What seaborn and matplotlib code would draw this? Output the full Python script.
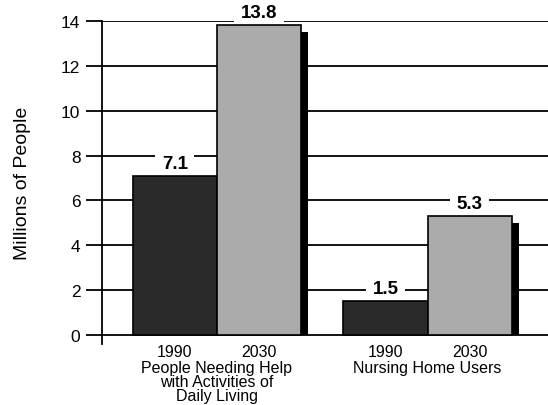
import matplotlib
matplotlib.use("Agg")
import matplotlib.pyplot as plt
from matplotlib.patches import Rectangle
import seaborn as sns
import pandas as pd

# Data: millions of people, 1990 vs. projected 2030
categories = ["People Needing Help\nwith Activities of\nDaily Living", "Nursing Home Users"]
years = ["1990", "2030"]
values_1990 = [7.1, 1.5]
values_2030 = [13.8, 5.3]
y_ticks = [0, 2, 4, 6, 8, 10, 12, 14]

df = pd.DataFrame({
    "category": categories * 2,
    "year": [years[0]] * 2 + [years[1]] * 2,
    "millions": values_1990 + values_2030,
})

sns.set_style("white")
plt.rcParams["font.family"] = ["Liberation Sans", "DejaVu Sans"]
plt.rcParams.update({
    "text.color": "black",
    "axes.labelcolor": "black",
    "xtick.color": "black",
    "ytick.color": "black",
})

fig = plt.figure(figsize=(5.48, 4.06), dpi=100)
ax = fig.add_axes([102 / 548, (406 - 345) / 406, 446 / 548, (345 - 22) / 406])

palette = {"1990": "#2a2a2a", "2030": "#ababab"}
sns.barplot(data=df, x="category", y="millions", hue="year", order=categories,
            hue_order=years, palette=palette, width=0.8, saturation=1,
            edgecolor="black", linewidth=1.2, legend=False, ax=ax, zorder=3)

ax.set_xlim(-0.546, 1.572)
ax.set_ylim(-0.4, 14)

# horizontal rules at each tick
for t in y_ticks:
    ax.axhline(t, color="black", linewidth=1.3, zorder=1)

# drop shadows behind each bar, resting on the baseline
dx, dy = 0.033, 0.31
bars = [p for p in ax.patches if isinstance(p, Rectangle) and p.get_height() > 0]
for p in bars:
    ax.add_patch(Rectangle((p.get_x() + dx, 0), p.get_width(), p.get_height() - dy,
                           facecolor="black", edgecolor="none", zorder=2))

# value labels above the bars, knocking out the rules behind them
for p in bars:
    h = p.get_height()
    ax.annotate(f"{h:.1f}", (p.get_x() + p.get_width() / 2, h),
                xytext=(0, 3), textcoords="offset points", ha="center", va="bottom",
                fontsize=13.5, fontweight="bold", zorder=2.5,
                bbox=dict(boxstyle="square,pad=0.35", fc="white", ec="none"))

# year labels under each bar and group names beneath
for i, cat in enumerate(categories):
    for j, yr in enumerate(years):
        xc = i + (j - 0.5) * 0.4
        ax.text(xc, -0.42, yr, ha="center", va="top", fontsize=11.5, clip_on=False)
    ax.text(i, -1.1, cat, ha="center", va="top", fontsize=11.5,
            linespacing=0.93, clip_on=False)

ax.set_xticks([])
ax.set_xlabel("")
ax.set_yticks(y_ticks)
ax.set_yticklabels([str(t) for t in y_ticks], fontsize=12.5)
ax.tick_params(axis="y", direction="out", length=11.5, width=1.3, pad=4, left=True)
ax.set_ylabel("Millions of People", fontsize=14, labelpad=22)

for s in ["top", "right", "bottom"]:
    ax.spines[s].set_visible(False)
ax.spines["left"].set_color("black")
ax.spines["left"].set_linewidth(1.3)
ax.spines["left"].set_zorder(4)

fig.savefig("out.png", dpi=100, facecolor="white")
